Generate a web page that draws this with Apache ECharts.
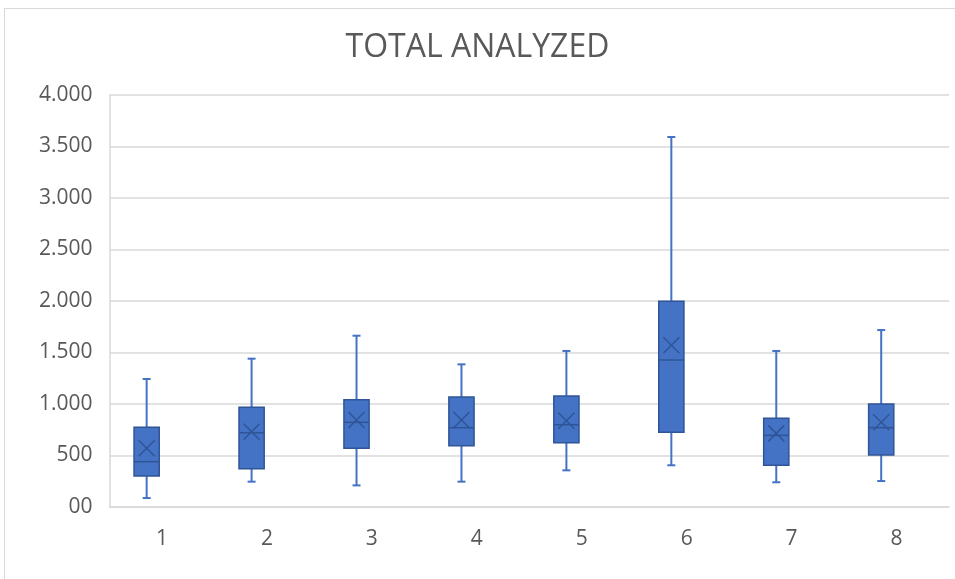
<!DOCTYPE html>
<html>
<head>
<meta charset="utf-8">
<script src="https://cdn.jsdelivr.net/npm/echarts@6/dist/echarts.min.js"></script>
<style>
  html, body { margin: 0; padding: 0; background: #ffffff; }
  #frame { position: absolute; left: 4px; top: 8px; width: 1000px; height: 700px; border: 1px solid #d9d9d9; box-sizing: border-box; }
  #chart { position: absolute; left: 0; top: 0; width: 955px; height: 579px; }
</style>
</head>
<body>
<div id="frame"></div>
<div id="chart"></div>
<script>
const titleText = 'TOTAL ANALYZED';
const categories = ['1', '2', '3', '4', '5', '6', '7', '8'];
const mins    = [87, 246, 210, 246, 356, 405, 240, 252];
const q1s     = [301, 372, 570, 595, 624, 725, 405, 505];
const medians = [440, 721, 822, 770, 799, 1427, 696, 770];
const q3s     = [774, 968, 1042, 1068, 1078, 1997, 861, 1000];
const maxs    = [1243, 1440, 1663, 1385, 1515, 3592, 1515, 1718];
const means   = [570, 731, 845, 845, 838, 1570, 715, 822];
const yTicks  = ['00', '500', '1.000', '1.500', '2.000', '2.500', '3.000', '3.500', '4.000'];

const rows = categories.map((c, i) => [i, mins[i], q1s[i], medians[i], q3s[i], maxs[i], means[i]]);

const FILL = '#4472C4';
const DARK = '#2F5597';
const TXT = '#595959';
const GRID = '#d9d9d9';
const FONT = '"Open Sans", "Liberation Sans", sans-serif';

function renderItem(params, api) {
  const idx = api.value(0);
  const band = api.size([1, 0])[0];
  const off = -band * 0.146;
  const boxW = band * 0.24;
  const capW = 8;
  const pMin = api.coord([idx, api.value(1)]);
  const pQ1 = api.coord([idx, api.value(2)]);
  const pMed = api.coord([idx, api.value(3)]);
  const pQ3 = api.coord([idx, api.value(4)]);
  const pMax = api.coord([idx, api.value(5)]);
  const pMean = api.coord([idx, api.value(6)]);
  const cx = pMin[0] + off;
  const half = boxW / 2;
  const xs = 8;
  const whisker = { stroke: FILL, lineWidth: 2 };
  const dark = { stroke: DARK, lineWidth: 1.5 };
  return {
    type: 'group',
    children: [
      { type: 'line', shape: { x1: cx, y1: pQ3[1], x2: cx, y2: pMax[1] }, style: whisker },
      { type: 'line', shape: { x1: cx, y1: pMin[1], x2: cx, y2: pQ1[1] }, style: whisker },
      { type: 'line', shape: { x1: cx - capW / 2, y1: pMax[1], x2: cx + capW / 2, y2: pMax[1] }, style: whisker },
      { type: 'line', shape: { x1: cx - capW / 2, y1: pMin[1], x2: cx + capW / 2, y2: pMin[1] }, style: whisker },
      { type: 'rect', shape: { x: cx - half, y: pQ3[1], width: boxW, height: pQ1[1] - pQ3[1] },
        style: { fill: FILL, stroke: DARK, lineWidth: 1.5 } },
      { type: 'line', shape: { x1: cx - half, y1: pMed[1], x2: cx + half, y2: pMed[1] }, style: dark },
      { type: 'line', shape: { x1: cx - xs, y1: pMean[1] - xs, x2: cx + xs, y2: pMean[1] + xs }, style: dark },
      { type: 'line', shape: { x1: cx - xs, y1: pMean[1] + xs, x2: cx + xs, y2: pMean[1] - xs }, style: dark }
    ]
  };
}

const chart = echarts.init(document.getElementById('chart'), null, { renderer: 'canvas' });
chart.setOption({
  backgroundColor: 'transparent',
  animation: false,
  title: {
    text: titleText,
    left: 'center',
    top: 27,
    textStyle: { color: TXT, fontSize: 32, fontWeight: 'normal', fontFamily: FONT }
  },
  grid: { left: 109.5, right: 6, top: 95, bottom: 72 },
  xAxis: {
    type: 'category',
    data: categories,
    boundaryGap: true,
    axisLine: { show: true, lineStyle: { color: GRID, width: 1.5 } },
    axisTick: { show: false },
    axisLabel: { color: TXT, fontSize: 21, fontFamily: FONT, margin: 22 },
    splitLine: { show: false }
  },
  yAxis: {
    type: 'value',
    min: 0,
    max: 4000,
    interval: 500,
    axisLine: { show: true, lineStyle: { color: GRID, width: 1.5 } },
    axisTick: { show: false },
    axisLabel: {
      color: TXT, fontSize: 21, fontFamily: FONT, margin: 17,
      formatter: function (v) { return yTicks[Math.round(v / 500)]; }
    },
    splitLine: { show: true, lineStyle: { color: GRID, width: 1.5 } }
  },
  series: [{
    type: 'custom',
    renderItem: renderItem,
    encode: { x: 0, y: [1, 2, 3, 4, 5, 6] },
    data: rows
  }]
});
</script>
</body>
</html>
